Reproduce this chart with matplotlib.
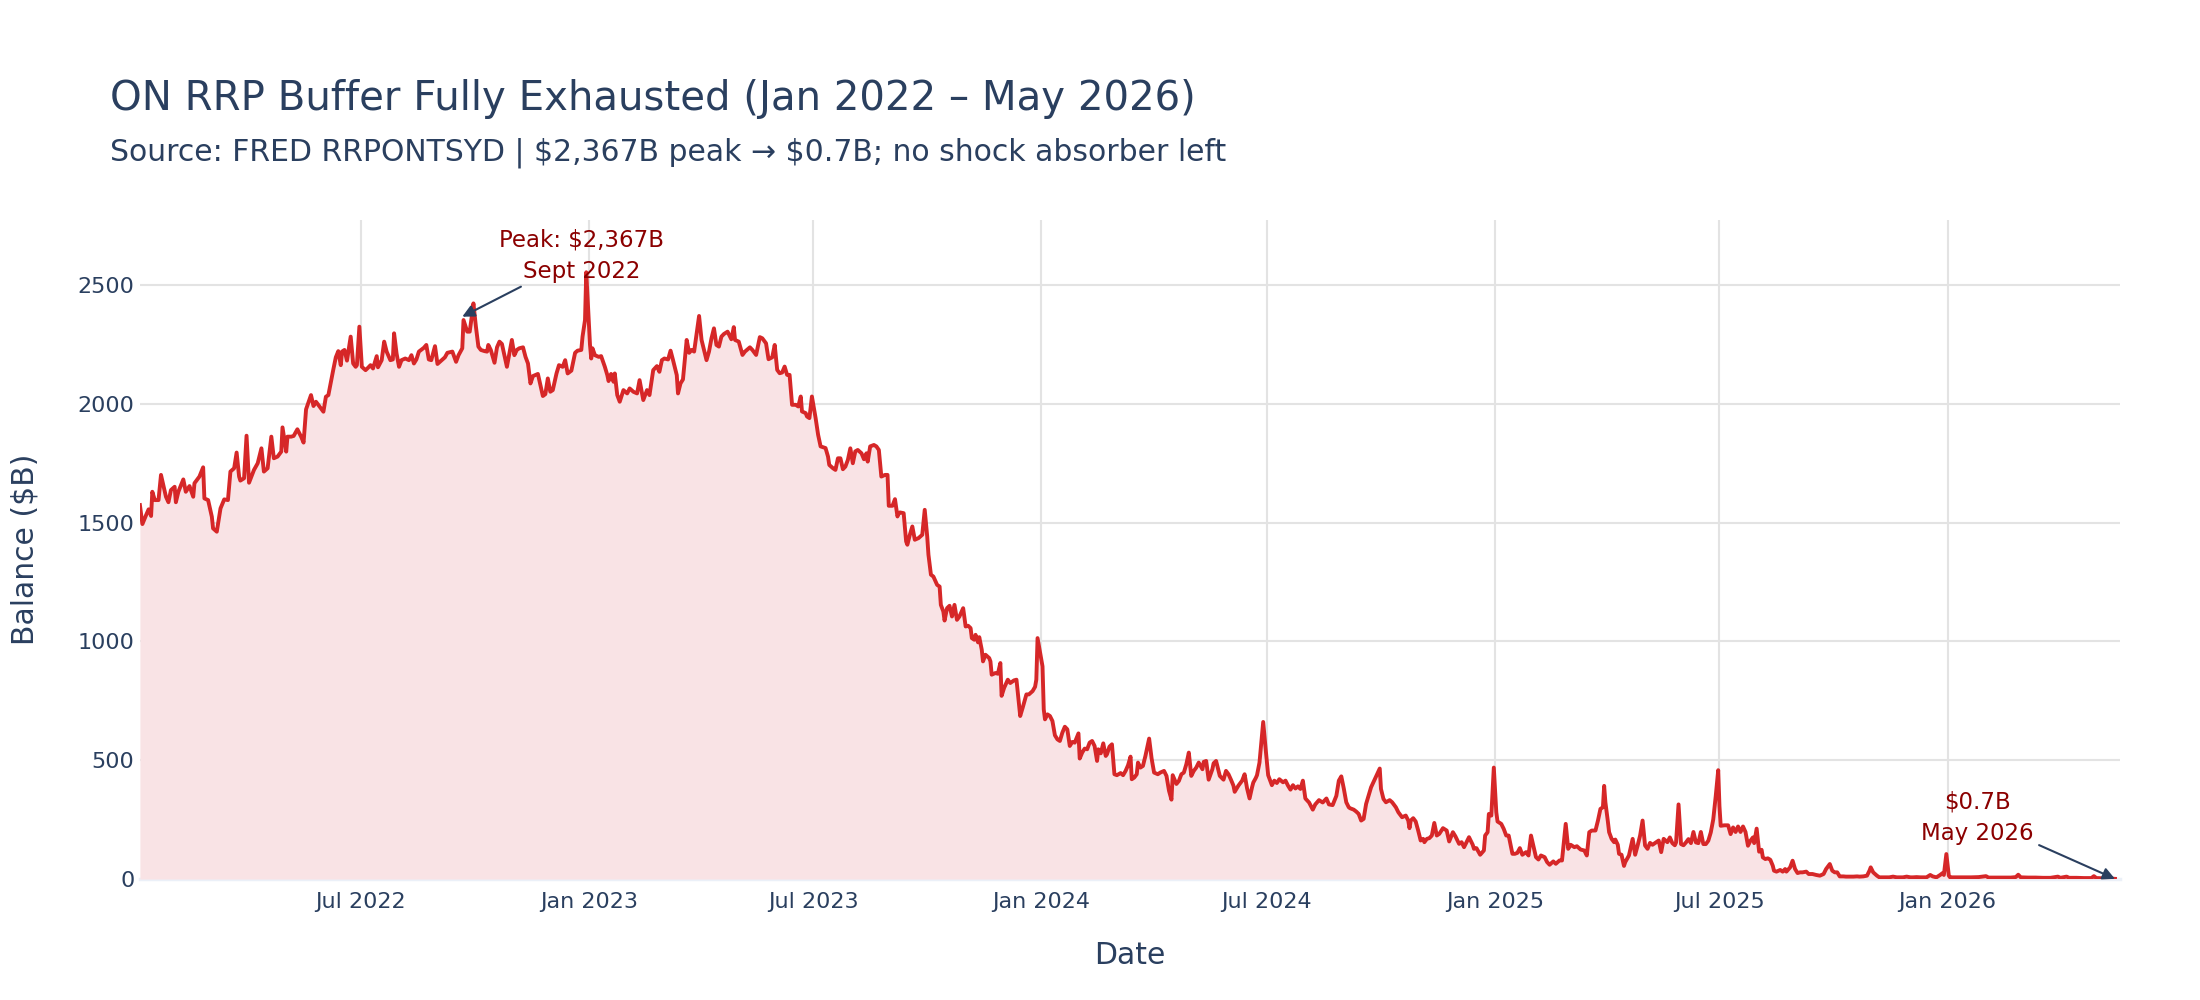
import pandas as pd
import matplotlib
matplotlib.use("Agg")
import matplotlib.pyplot as plt
import matplotlib.dates as mdates

# ON RRP daily balance
# day offsets counted from 2022-01-01, balances in $B
start_date = "2022-01-01"

days = [
    3, 5, 8, 10, 12, 13, 15, 18, 20, 24, 26, 28, 31, 32, 34, 38, 40, 43, 46, 47,
    51, 54, 55, 58, 61, 62, 65, 68, 71, 74, 76, 79, 81, 83, 84, 87, 89, 91, 95, 98,
    101, 103, 106, 109, 111, 114, 117, 118, 121, 122, 125, 127, 130, 133, 135, 137, 141, 143, 145, 148,
    151, 153, 155, 159, 161, 163, 165, 166, 168, 170, 173, 175, 177, 178, 180, 182, 185, 187, 189, 191,
    194, 195, 198, 200, 202, 205, 207, 208, 210, 212, 214, 217, 220, 222, 224, 226, 228, 232, 234, 236,
    238, 241, 243, 246, 249, 251, 255, 258, 260, 263, 264, 267, 269, 271, 272, 274, 276, 278, 281, 283,
    284, 286, 289, 291, 293, 295, 297, 299, 301, 303, 305, 307, 309, 312, 314, 316, 318, 320, 324, 326,
    328, 330, 332, 334, 336, 339, 341, 344, 346, 348, 351, 354, 356, 359, 360, 362, 363, 366, 367, 368,
    370, 373, 375, 378, 380, 381, 383, 385, 386, 388, 390, 393, 396, 398, 401, 404, 406, 409, 412, 414,
    417, 420, 422, 424, 426, 429, 431, 433, 436, 437, 439, 441, 444, 446, 448, 450, 454, 456, 458, 460,
    462, 464, 466, 468, 470, 472, 474, 477,
    480, 482, 483, 486, 489, 491, 495, 497, 500, 503, 505, 508, 510, 513, 515, 517, 519, 521, 523, 525,
    527, 529, 532, 534, 536, 537, 540, 541, 543, 545, 548, 550, 552, 556, 558, 559, 562, 564, 566, 568,
    570, 572, 574, 576, 578, 580, 582, 585, 587, 589, 590, 592, 595, 597, 599, 601, 604, 606, 607, 610,
    612, 614, 615, 616, 619, 621, 622, 624, 626, 628, 631, 634, 636, 638, 639, 641, 643, 646, 648, 649,
    651, 652, 654, 656, 658, 660, 662, 664, 667, 669, 671, 673, 674, 676, 677, 679, 680, 682, 683, 685,
    688, 689, 690, 693, 695, 697, 698, 700, 703, 705, 708, 710,
    713, 715, 718, 720, 723, 725, 726, 727, 731, 732, 733, 735, 737, 739, 741, 743, 745, 747, 749, 751,
    753, 755, 757, 760, 761, 763, 765, 767, 769, 771, 773, 775, 776, 778, 780, 782, 783, 785, 787, 789,
    791, 794, 796, 798, 800, 802, 803, 805, 807, 808, 810, 812, 814, 817, 819, 821, 824, 826, 829, 831,
    833, 835, 836, 839, 841, 843, 845, 847, 849, 851, 853, 855, 857, 860, 861, 863, 865, 868, 869, 871,
    874, 876, 877, 879, 881, 883, 885, 886, 889, 892, 894, 896, 898, 900, 901, 903, 904, 906, 909, 911,
    913, 916, 918, 920, 922, 925, 927, 929, 931, 933, 935, 937, 939, 941, 943, 946, 949, 951, 954, 957,
    960, 962, 965, 968, 970,
    972, 974, 976, 978, 979, 982, 984, 986, 988, 990, 992, 994, 996, 999, 1003, 1004, 1006, 1008, 1011, 1013,
    1016, 1018, 1021, 1024, 1026, 1027, 1028, 1030, 1032, 1034, 1036, 1038, 1039, 1041, 1043, 1045, 1047, 1049, 1051, 1054,
    1057, 1059, 1062, 1064, 1067, 1069, 1071, 1073, 1075, 1078, 1079, 1081, 1084, 1087, 1088, 1090, 1091, 1093, 1095, 1097,
    1098, 1101, 1103, 1105, 1107, 1110, 1112, 1114, 1116, 1118, 1121, 1123, 1125, 1127, 1129, 1131, 1133, 1136, 1138, 1140,
    1143, 1145, 1148, 1150, 1153, 1155, 1157, 1160, 1162, 1165, 1168, 1170, 1172, 1174, 1177, 1179, 1181, 1183, 1184, 1185,
    1187, 1188, 1190, 1192, 1193, 1195, 1196, 1198, 1200, 1201, 1204, 1207, 1209, 1211, 1213, 1215, 1217, 1219, 1221, 1223,
    1226, 1228, 1230, 1232, 1235,
    1237, 1239, 1241, 1242, 1244, 1246, 1248, 1250, 1252, 1254, 1256, 1258, 1260, 1262, 1264, 1266, 1268, 1270, 1272, 1274,
    1276, 1277, 1278, 1281, 1284, 1286, 1288, 1290, 1292, 1294, 1296, 1298, 1300, 1302, 1304, 1305, 1307, 1309, 1311, 1312,
    1314, 1316, 1318, 1320, 1321, 1323, 1326, 1328, 1330, 1331, 1334, 1336, 1338, 1340, 1342, 1344, 1347, 1349, 1352, 1355,
    1358, 1361, 1363, 1366, 1368, 1370, 1372, 1374, 1377, 1379, 1382, 1385, 1388, 1390, 1393, 1396, 1398, 1399, 1401, 1404,
    1406, 1409, 1412, 1414, 1417, 1420, 1423, 1425, 1428, 1431, 1433, 1436, 1439, 1441, 1444, 1447, 1449, 1452, 1455, 1457,
    1458, 1460, 1462, 1463, 1466, 1468, 1471,
    1475, 1480, 1486, 1492, 1494, 1500, 1506, 1512, 1516, 1518, 1520, 1526, 1532, 1538, 1544, 1550, 1552, 1557, 1559, 1565,
    1571, 1577, 1579, 1581, 1587, 1592, 1596,
]

balance = [
    1574, 1494, 1532, 1556, 1528, 1630, 1595, 1595, 1701, 1609, 1586, 1637, 1651, 1586, 1630, 1682, 1630, 1654, 1609, 1666,
    1694, 1733, 1602, 1595, 1525, 1476, 1462, 1560, 1598, 1595, 1715, 1729, 1795, 1694, 1677, 1687, 1866, 1668, 1722, 1750,
    1813, 1715, 1729, 1862, 1771, 1778, 1799, 1901, 1799, 1862, 1862, 1865, 1893, 1862, 1837, 1977, 2037, 1991, 2009, 1988,
    1967, 2030, 2037, 2145, 2196, 2222, 2163, 2220, 2227, 2182, 2283, 2170, 2156, 2163, 2325, 2156, 2142, 2152, 2163, 2149,
    2201, 2154, 2184, 2262, 2220, 2184, 2187, 2297, 2212, 2156, 2184, 2191, 2184, 2205, 2170, 2187, 2220, 2236, 2248, 2187,
    2184, 2243, 2168, 2182, 2196, 2215, 2220, 2177, 2205, 2234, 2353, 2304, 2304, 2381, 2423, 2325, 2241, 2227, 2222, 2220,
    2248, 2227, 2173, 2238, 2262, 2252, 2205, 2156, 2212, 2269, 2205, 2227, 2234, 2238, 2198, 2170, 2086, 2117, 2126, 2079,
    2033, 2041, 2107, 2051, 2058, 2128, 2163, 2156, 2184, 2128, 2140, 2215, 2224, 2227, 2283, 2353, 2554, 2250, 2191, 2234,
    2205, 2198, 2201, 2156, 2121, 2096, 2126, 2093, 2128, 2037, 2009, 2058, 2044, 2065, 2051, 2044, 2100, 2016, 2058, 2037,
    2142, 2159, 2135, 2184, 2191, 2187, 2224, 2184, 2121, 2044, 2086, 2103, 2269, 2215, 2227, 2220, 2370, 2269, 2227, 2184,
    2220, 2276, 2318, 2248, 2241, 2283, 2294, 2304,
    2272, 2323, 2269, 2262, 2206, 2220, 2238, 2227, 2206, 2281, 2276, 2255, 2188, 2196, 2248, 2143, 2129, 2132, 2157, 2122,
    2122, 1996, 1996, 1989, 2031, 1968, 1961, 1947, 1940, 2031, 1940, 1870, 1821, 1814, 1778, 1743, 1729, 1722, 1771, 1771,
    1725, 1736, 1764, 1813, 1750, 1800, 1806, 1792, 1767, 1792, 1757, 1821, 1827, 1821, 1806, 1694, 1701, 1701, 1571, 1571,
    1599, 1526, 1540, 1543, 1540, 1421, 1407, 1449, 1484, 1428, 1435, 1449, 1554, 1442, 1365, 1281, 1273, 1238, 1231, 1154,
    1126, 1088, 1140, 1150, 1105, 1154, 1091, 1105, 1140, 1063, 1066, 1056, 1014, 1007, 1028, 996, 1018, 965, 916, 944,
    930, 916, 860, 867, 864, 909, 771, 804, 839, 825, 836, 839,
    686, 721, 777, 777, 791, 809, 839, 1014, 895, 714, 672, 693, 686, 665, 605, 588, 581, 616, 641, 630,
    560, 577, 574, 613, 507, 532, 549, 546, 574, 581, 560, 497, 546, 529, 571, 518, 525, 557, 567, 441,
    437, 446, 437, 455, 479, 515, 420, 427, 441, 490, 469, 476, 518, 591, 507, 448, 441, 448, 455, 434,
    372, 334, 437, 400, 413, 441, 448, 483, 532, 434, 455, 469, 490, 462, 493, 497, 418, 462, 487, 497,
    434, 423, 418, 455, 441, 418, 393, 367, 393, 414, 441, 381, 339, 386, 406, 425, 437, 490, 661, 546,
    437, 395, 414, 404, 420, 407, 414, 393, 376, 395, 381, 390, 379, 414, 339, 322, 292, 314, 332, 322,
    339, 314, 311, 350, 414,
    432, 381, 323, 302, 298, 292, 284, 274, 246, 253, 316, 351, 386, 420, 465, 379, 337, 323, 332, 323,
    302, 281, 260, 267, 246, 214, 246, 256, 242, 204, 162, 169, 155, 169, 172, 183, 236, 183, 190, 214,
    204, 158, 197, 180, 148, 155, 134, 155, 176, 144, 127, 130, 102, 120, 183, 197, 274, 267, 469, 281,
    242, 232, 211, 183, 183, 106, 106, 110, 130, 102, 113, 99, 183, 138, 92, 82, 99, 92, 71, 60,
    74, 64, 78, 78, 232, 127, 144, 134, 138, 124, 120, 99, 197, 204, 204, 246, 295, 302, 392, 323,
    242, 197, 169, 155, 166, 144, 106, 102, 55, 71, 99, 169, 102, 141, 183, 246, 141, 127, 152, 144,
    155, 162, 113, 169, 155,
    175, 151, 142, 154, 314, 147, 142, 154, 168, 151, 198, 154, 151, 198, 147, 147, 161, 196, 251, 349,
    458, 307, 224, 226, 226, 189, 217, 198, 221, 198, 221, 198, 140, 161, 175, 151, 212, 115, 123, 91,
    84, 87, 81, 56, 35, 31, 38, 31, 42, 31, 49, 77, 42, 25, 28, 28, 31, 21, 21, 17,
    14, 21, 42, 63, 35, 28, 28, 11, 11, 10, 10, 10, 11, 10, 11, 14, 35, 49, 28, 14,
    7, 7, 7, 7, 10, 7, 7, 7, 10, 7, 7, 8, 7, 7, 7, 17, 11, 7, 17, 25,
    17, 105, 14, 7, 7, 7, 7,
    7, 7, 8, 12, 6, 6, 6, 6, 8, 18, 7, 6, 6, 5, 5, 10, 5, 10, 5, 5,
    4, 4, 12, 4, 3, 2, 0.7,
]

peak_date = "2022-09-21"
peak_value = 2367
peak_label = "Peak: \\$2,367B\nSept 2022"
last_label = "\\$0.7B\nMay 2026"

title = "ON RRP Buffer Fully Exhausted (Jan 2022 \u2013 May 2026)"
subtitle = "Source: FRED RRPONTSYD | \\$2,367B peak \u2192 \\$0.7B; no shock absorber left"

dates = pd.Timestamp(start_date) + pd.to_timedelta(days, unit="D")
df = pd.DataFrame({"date": dates, "balance": balance})

text_color = "#2a3f5f"
line_color = "#d62728"
fill_color = "#f9e3e5"
grid_color = "#e3e3e3"
note_color = "#8b0000"

fig = plt.figure(figsize=(22, 10), dpi=100)
ax = fig.add_axes([0.0636, 0.121, 0.9, 0.659])

ax.fill_between(df["date"], df["balance"], 0, color=fill_color, linewidth=0, zorder=2)
ax.axhline(0, color="#ebf0f8", linewidth=2.5, zorder=1.5, clip_on=False)
ax.plot(df["date"], df["balance"], color=line_color, linewidth=2.8, zorder=3)

ax.set_xlim(df["date"].iloc[0], df["date"].iloc[-1] + pd.Timedelta(days=4))
ax.set_ylim(0, 2774)
ax.set_yticks([0, 500, 1000, 1500, 2000, 2500])
ax.xaxis.set_major_locator(mdates.MonthLocator(bymonth=[1, 7]))
ax.xaxis.set_major_formatter(mdates.DateFormatter("%b %Y"))

ax.grid(True, color=grid_color, linewidth=1.5, zorder=0)
ax.set_axisbelow(True)
for s in ax.spines.values():
    s.set_visible(False)
ax.tick_params(axis="both", length=0, labelsize=16, labelcolor=text_color)
ax.tick_params(axis="x", pad=9)
ax.tick_params(axis="y", pad=4)

# annotations with arrows
arrow = dict(arrowstyle="-|>", color=text_color, lw=1.5, mutation_scale=18, shrinkA=2, shrinkB=0)
ax.annotate(peak_label, xy=(pd.Timestamp(peak_date), peak_value),
            xytext=(86, 44), textcoords="offset points",
            ha="center", va="center", fontsize=16.5, color=note_color, linespacing=1.45,
            arrowprops=arrow, zorder=5)
ax.annotate(last_label, xy=(df["date"].iloc[-1], df["balance"].iloc[-1]),
            xytext=(-99, 44), textcoords="offset points",
            ha="center", va="center", fontsize=16.5, color=note_color, linespacing=1.45,
            arrowprops=arrow, zorder=5)

fig.text(0.05, 0.89, title, fontsize=29, color=text_color, va="baseline", ha="left")
fig.text(0.05, 0.839, subtitle, fontsize=21.5, color=text_color, va="baseline", ha="left")
fig.text(0.5136, 0.045, "Date", fontsize=21.5, color=text_color, ha="center", va="center")
fig.text(0.0114, 0.4505, "Balance ($B)", fontsize=21.5, color=text_color, ha="center", va="center",
         rotation=90)

fig.savefig("out.png", dpi=100, facecolor="white")
